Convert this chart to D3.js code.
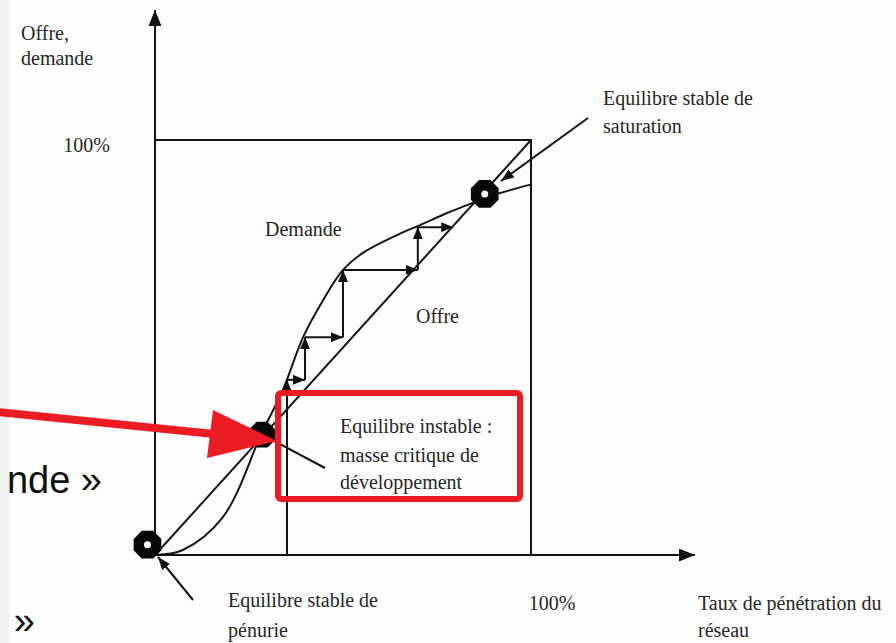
<!DOCTYPE html>
<html><head><meta charset="utf-8">
<script src="https://cdn.jsdelivr.net/npm/d3@7"></script>
<style>html,body{margin:0;padding:0;background:#fdfdfd;overflow:hidden}</style>
</head><body>
<script>
// ---- data ----
const demandX = [0, 0.074, 0.181, 0.285, 0.340, 0.394, 0.447, 0.500, 0.553, 0.644, 0.705, 0.777, 0.838, 0.878, 1.0];
const demandY = [0, 0.012, 0.092, 0.296, 0.398, 0.525, 0.614, 0.687, 0.728, 0.771, 0.795, 0.824, 0.846, 0.861, 0.893];
const offerX = [0, 1];
const offerY = [0, 1];
const stepX = [0.351, 0.351, 0.399, 0.399, 0.500, 0.500, 0.699, 0.699, 0.793];
const stepY = [0.393, 0.422, 0.422, 0.525, 0.525, 0.687, 0.687, 0.790, 0.790];
const criticalX = 0.351;
const equilibriaX = [-0.02, 0.285, 0.877];
const equilibriaY = [0.025, 0.29, 0.870];
const equilibriaStable = [true, false, true];
const tickLabels = ["100%", "100%"];
const axisMax = [1.436, 1.313];

const W = 896, H = 643;
const svg = d3.select("body").append("svg").attr("width", W).attr("height", H)
  .style("display","block");
svg.append("rect").attr("width", W).attr("height", H).attr("fill", "#fdfdfd");
svg.append("rect").attr("width", 9).attr("height", H).attr("fill", "#f1f1f1");

const x = d3.scaleLinear().domain([0, 1]).range([155, 531]);
const y = d3.scaleLinear().domain([0, 1]).range([555, 140]);

const defs = svg.append("defs");
function marker(id, len, wid) {
  defs.append("marker").attr("id", id).attr("markerUnits", "userSpaceOnUse")
    .attr("viewBox", `0 ${-wid/2} ${len} ${wid}`).attr("refX", len).attr("refY", 0)
    .attr("markerWidth", len).attr("markerHeight", wid).attr("orient", "auto")
    .append("path").attr("d", `M0,${-wid/2}L${len},0L0,${wid/2}Z`).attr("fill", "#111");
}
marker("ax", 16, 13);
marker("st", 12, 10);
marker("an", 13, 10);

const ink = "#151515";
const g = svg.append("g").attr("fill", "none").attr("stroke", ink).attr("stroke-width", 2);

// axes
g.append("line").attr("x1", x(0)).attr("y1", y(0)).attr("x2", x(0)).attr("y2", y(axisMax[1]))
  .attr("marker-end", "url(#ax)");
g.append("line").attr("x1", x(0)).attr("y1", y(0)).attr("x2", x(axisMax[0])).attr("y2", y(0))
  .attr("marker-end", "url(#ax)");
// 100% box
g.append("path").attr("d", `M${x(0)},${y(1)}H${x(1)}V${y(0)}`);
// critical mass vertical
g.append("line").attr("x1", x(criticalX)).attr("y1", y(0)).attr("x2", x(criticalX)).attr("y2", y(stepY[0]));

// offer
const line = d3.line().x(d => x(d[0])).y(d => y(d[1]));
g.append("path").attr("d", line(offerX.map((v, i) => [v, offerY[i]])));
// demand
g.append("path").attr("d", line.curve(d3.curveCatmullRom.alpha(0.5))(demandX.map((v, i) => [v, demandY[i]])));

// staircase
for (let i = 0; i < stepX.length - 1; i++) {
  g.append("line").attr("x1", x(stepX[i])).attr("y1", y(stepY[i]))
    .attr("x2", x(stepX[i+1])).attr("y2", y(stepY[i+1]))
    .attr("marker-end", "url(#st)");
}

// annotation arrows
g.append("line").attr("x1", 588).attr("y1", 118).attr("x2", 501).attr("y2", 181).attr("marker-end", "url(#an)");
g.append("line").attr("x1", 193).attr("y1", 600).attr("x2", 158).attr("y2", 557).attr("marker-end", "url(#an)");
g.append("line").attr("x1", 325).attr("y1", 468).attr("x2", x(equilibriaX[1])).attr("y2", y(equilibriaY[1]));

// equilibria octagons
const oct = r => d3.range(8).map(k => {
  const a = Math.PI / 8 + k * Math.PI / 4;
  return [r * Math.cos(a), r * Math.sin(a)];
});
equilibriaX.forEach((ex, i) => {
  const cx = x(ex), cy = y(equilibriaY[i]);
  const r = equilibriaStable[i] ? 15 : 14;
  svg.append("polygon").attr("points", oct(r).map(p => [cx + p[0], cy + p[1]].join(",")).join(" "))
    .attr("fill", "#080808");
  if (equilibriaStable[i]) svg.append("circle").attr("cx", cx).attr("cy", cy).attr("r", 3.5).attr("fill", "#fff");
});

// texts
const serif = "'Liberation Serif', 'Times New Roman', serif";
function txt(t, tx, ty, anchor) {
  svg.append("text").attr("x", tx).attr("y", ty).attr("text-anchor", anchor || "start")
    .attr("font-family", serif).attr("font-size", 20).attr("fill", "#262626").text(t);
}
txt("Offre,", 21, 40);
txt("demande", 21, 65);
txt(tickLabels[1], 110, 152, "end");
txt(tickLabels[0], 552, 610, "middle");
txt("Demande", 265, 236);
txt("Offre", 416, 323);
txt("Equilibre stable de", 603, 105);
txt("saturation", 603, 133);
txt("Equilibre instable :", 340, 433);
txt("masse critique de", 340, 462);
txt("développement", 340, 489);
txt("Taux de pénétration du", 698, 610);
txt("réseau", 698, 637);
txt("Equilibre stable de", 228, 607);
txt("pénurie", 228, 637);

// red highlight
const red = "#ec1c24";
svg.append("rect").attr("x", 278).attr("y", 393).attr("width", 242).attr("height", 106).attr("rx", 3)
  .attr("fill", "none").attr("stroke", red).attr("stroke-width", 6);
svg.append("line").attr("x1", -2).attr("y1", 412).attr("x2", 214).attr("y2", 434)
  .attr("stroke", red).attr("stroke-width", 8);
svg.append("polygon").attr("points", "213,410 207,458 277,441").attr("fill", red);

// slide fragments
const sans = "'Liberation Sans', Arial, sans-serif";
svg.append("text").attr("x", 102).attr("y", 493).attr("text-anchor", "end")
  .attr("font-family", sans).attr("font-size", 38).attr("fill", "#111").text("nde »");
svg.append("text").attr("x", 35).attr("y", 634).attr("text-anchor", "end")
  .attr("font-family", sans).attr("font-size", 38).attr("fill", "#111").text("»");
</script>
</body></html>
